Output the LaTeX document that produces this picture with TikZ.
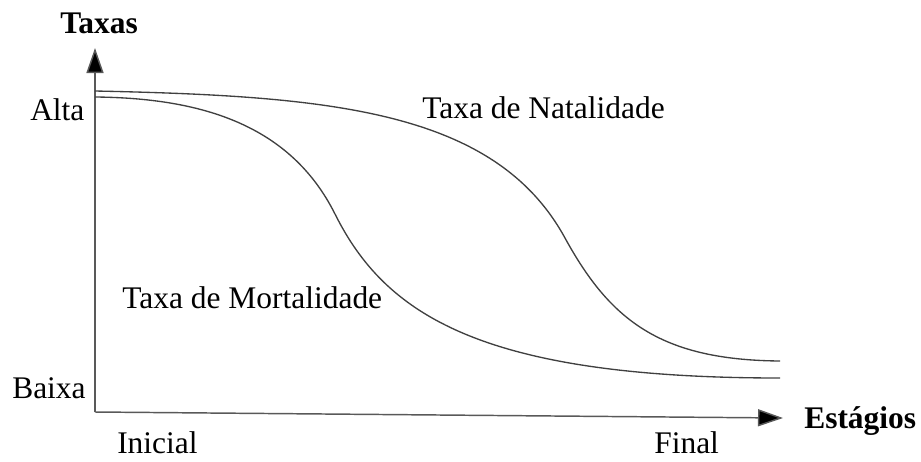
\documentclass[tikz,border=0pt]{standalone}
\usepackage{fontspec}
\setmainfont{Liberation Serif}
\usetikzlibrary{arrows.meta}
\begin{document}
\begin{tikzpicture}[x=0.75pt,y=-0.75pt,
  lbl/.style={inner sep=0pt,anchor=base west,font=\fontsize{23.6}{28}\selectfont},
  blbl/.style={lbl,font=\fontsize{23.6}{28}\selectfont\bfseries},
  axis/.style={draw=black!65,line width=1.1pt,-{Triangle[length=18.75pt,width=12.75pt,fill=black]}},
  curve/.style={draw=black!75,line width=1pt}]
\useasboundingbox (0,0) rectangle (921,461);
\coordinate (O) at (95,412);
\coordinate (ytip) at (95,48);
\coordinate (xtip) at (783,418);
\coordinate (n0) at (95,91);
\coordinate (ni) at (565,238);
\coordinate (n1) at (780,361);
\coordinate (m0) at (95,97);
\coordinate (mi) at (335,214);
\coordinate (m1) at (780,378);
\draw[axis] (O) -- (ytip);
\draw[axis] (O) -- (xtip);
\draw[curve] (n0) .. controls (330,96) and (495,110) .. (ni)
                  .. controls (610,320) and (660,360) .. (n1);
\draw[curve] (m0) .. controls (200,98) and (290,124) .. (mi)
                  .. controls (385,314) and (480,378) .. (m1);
\node[blbl] (taxas) at (60,33) {Taxas};
\node[lbl] (alta) at (30,120) {Alta};
\node[lbl] (baixa) at (12,398) {Baixa};
\node[lbl] (ini) at (117,453) {Inicial};
\node[lbl] (fin) at (654,453) {Final};
\node[blbl] (est) at (804,428) {Estágios};
\node[lbl] (nat) at (422,118) {Taxa de Natalidade};
\node[lbl] (mort) at (122,308) {Taxa de Mortalidade};
\end{tikzpicture}
\end{document}
